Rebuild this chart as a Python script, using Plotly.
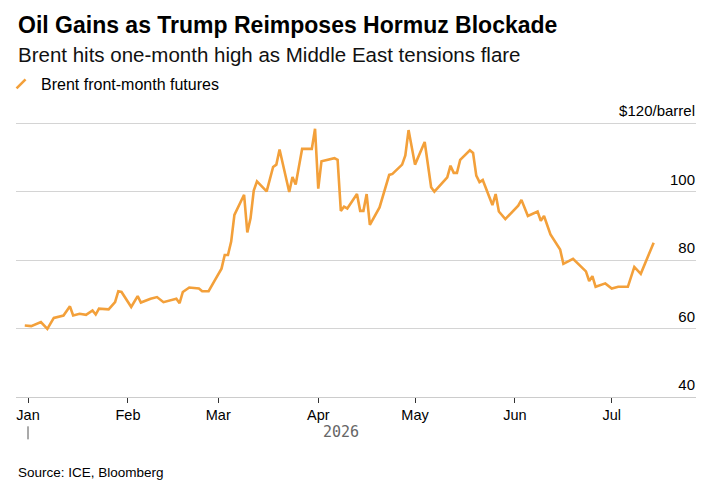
import plotly.graph_objects as go

# Brent front-month futures, $/barrel
dates = [
    "2025-12-31", "2026-01-02", "2026-01-05", "2026-01-07", "2026-01-09",
    "2026-01-12", "2026-01-14", "2026-01-15", "2026-01-17", "2026-01-19",
    "2026-01-21", "2026-01-22", "2026-01-23", "2026-01-26", "2026-01-28",
    "2026-01-29", "2026-01-30", "2026-02-02", "2026-02-04", "2026-02-05",
    "2026-02-08", "2026-02-10", "2026-02-12", "2026-02-16", "2026-02-17",
    "2026-02-18", "2026-02-20", "2026-02-23", "2026-02-24", "2026-02-26",
    "2026-02-28", "2026-03-02", "2026-03-03", "2026-03-04", "2026-03-05",
    "2026-03-06", "2026-03-09", "2026-03-10", "2026-03-11", "2026-03-12",
    "2026-03-13", "2026-03-16", "2026-03-18", "2026-03-19", "2026-03-20",
    "2026-03-23", "2026-03-24", "2026-03-25", "2026-03-27", "2026-03-30",
    "2026-03-31", "2026-04-01", "2026-04-02", "2026-04-06", "2026-04-07",
    "2026-04-08", "2026-04-09", "2026-04-10", "2026-04-13", "2026-04-14",
    "2026-04-15", "2026-04-16", "2026-04-17", "2026-04-20", "2026-04-23",
    "2026-04-24", "2026-04-27", "2026-04-28", "2026-04-29", "2026-05-01",
    "2026-05-04", "2026-05-06", "2026-05-07", "2026-05-11", "2026-05-12",
    "2026-05-13", "2026-05-14", "2026-05-15", "2026-05-18", "2026-05-19",
    "2026-05-20", "2026-05-21", "2026-05-22", "2026-05-25", "2026-05-26",
    "2026-05-27", "2026-05-29", "2026-06-02", "2026-06-03", "2026-06-05",
    "2026-06-08", "2026-06-09", "2026-06-10", "2026-06-12", "2026-06-15",
    "2026-06-16", "2026-06-19", "2026-06-23", "2026-06-24", "2026-06-25",
    "2026-06-26", "2026-06-29", "2026-07-01", "2026-07-03", "2026-07-06",
    "2026-07-08", "2026-07-10", "2026-07-14",
]
brent = [
    60.9, 60.7, 61.9, 59.9, 63.1,
    63.8, 66.5, 63.8, 64.3, 64.0,
    65.3, 64.1, 65.8, 65.6, 67.7,
    70.9, 70.7, 66.3, 69.5, 67.6,
    68.7, 69.2, 67.7, 68.7, 67.4,
    70.7, 72.0, 71.7, 70.9, 70.9,
    74.2, 77.5, 81.5, 81.5, 85.4,
    93.2, 99.1, 88.1, 92.2, 100.3,
    103.0, 100.1, 107.2, 107.9, 112.3,
    99.9, 104.3, 102.1, 112.5, 112.5,
    118.4, 100.9, 108.9, 109.8, 109.3,
    94.4, 95.6, 95.1, 99.3, 94.4,
    94.4, 99.3, 90.3, 95.4, 104.9,
    105.2, 107.9, 110.6, 118.0, 107.9,
    114.5, 101.3, 100.0, 104.2, 107.6,
    105.5, 105.5, 109.3, 112.1, 111.3,
    104.7, 102.8, 103.4, 96.1, 99.3,
    94.2, 92.0, 95.9, 97.6, 92.9,
    94.2, 91.5, 92.9, 87.5, 83.1,
    78.9, 80.4, 76.7, 73.9, 75.3,
    72.2, 73.2, 71.7, 72.2, 72.2,
    78.0, 76.0, 85.1,
]

month_ticks = ["2026-01-01", "2026-02-01", "2026-03-01", "2026-04-01",
               "2026-05-01", "2026-06-01", "2026-07-01"]
month_labels = ["Jan", "Feb", "Mar", "Apr", "May", "Jun", "Jul"]
y_ticks = [40, 60, 80, 100, 120]
y_labels = ["40", "60", "80", "100", "$120/barrel"]

ORANGE = "#F3A03A"
FONT = "Liberation Sans"
OFF = 8  # page body margin the figure sits in

# plot box in screen pixels: y=40 at 396.7, y=120 at 123.3
Y_TOP = 130
PX_PER_UNIT = (396.7 - 123.3) / 80
top_px = 396.7 - (Y_TOP - 40) * PX_PER_UNIT

fig = go.Figure()
fig.add_trace(go.Scatter(
    x=dates, y=brent, mode="lines",
    line=dict(color=ORANGE, width=2.6),
    showlegend=False, hoverinfo="skip",
))
# legend key drawn as a slanted stroke like the original
fig.add_trace(go.Scatter(
    x=[None], y=[None], mode="markers", name="Brent front-month futures",
    marker=dict(symbol="line-ne", size=9,
                line=dict(color=ORANGE, width=2.6)),
))

fig.update_layout(
    width=722, height=497,
    margin=dict(l=16 - OFF, r=722 - (696 - OFF), t=top_px - OFF,
                b=497 - (396.7 - OFF), autoexpand=False),
    paper_bgcolor="white", plot_bgcolor="white",
    font=dict(family=FONT, color="#000"),
    legend=dict(
        xref="paper", yref="container", x=-0.022, y=1 - (84 - OFF) / 497,
        xanchor="left", yanchor="middle", orientation="h",
        font=dict(size=16, color="#000"), bgcolor="rgba(0,0,0,0)",
    ),
    xaxis=dict(
        type="date", range=["2025-12-28 06:40", "2026-07-27 03:00"],
        tickvals=month_ticks, ticktext=month_labels,
        ticks="outside", ticklen=5, tickwidth=1, tickcolor="#333",
        tickfont=dict(size=14.5, color="#000"),
        showgrid=False, showline=True, linecolor="#cccccc", linewidth=1,
        zeroline=False, fixedrange=True,
    ),
    yaxis=dict(
        range=[40, Y_TOP], side="right",
        tickvals=y_ticks, ticktext=y_labels,
        ticklabelposition="inside", ticklabelshift=-12, ticklabelstandoff=-2,
        ticks="", tickfont=dict(size=15, color="#000"),
        showgrid=True, gridcolor="#d4d4d4", gridwidth=1,
        zeroline=False, showline=False, fixedrange=True,
    ),
)

def py(pix):
    # screen pixel row -> paper y
    return (396.7 - pix) / (396.7 - top_px)

fig.add_annotation(text="<b>Oil Gains as Trump Reimposes Hormuz Blockade</b>",
                   xref="paper", yref="paper", x=0, y=py(25.5),
                   xanchor="left", yanchor="middle", showarrow=False,
                   font=dict(size=23, color="#000"))
fig.add_annotation(text="Brent hits one-month high as Middle East tensions flare",
                   xref="paper", yref="paper", x=0, y=py(55),
                   xanchor="left", yanchor="middle", showarrow=False,
                   font=dict(size=20.5, color="#111"))
fig.add_annotation(text="2026", xref="paper", yref="paper", x=0.478, y=py(431.7),
                   xanchor="center", yanchor="middle", showarrow=False,
                   font=dict(family="DejaVu Sans Mono", size=15, color="#666"))
fig.add_annotation(text="Source: ICE, Bloomberg", xref="paper", yref="paper",
                   x=0, y=py(472), xanchor="left", yanchor="middle",
                   showarrow=False, font=dict(size=13.5, color="#000"))
# small year marker under January
fig.add_shape(type="line", xref="x", yref="paper",
              x0="2026-01-01", x1="2026-01-01", y0=py(426), y1=py(439),
              line=dict(color="#555", width=1))

fig.write_html("out.html")
